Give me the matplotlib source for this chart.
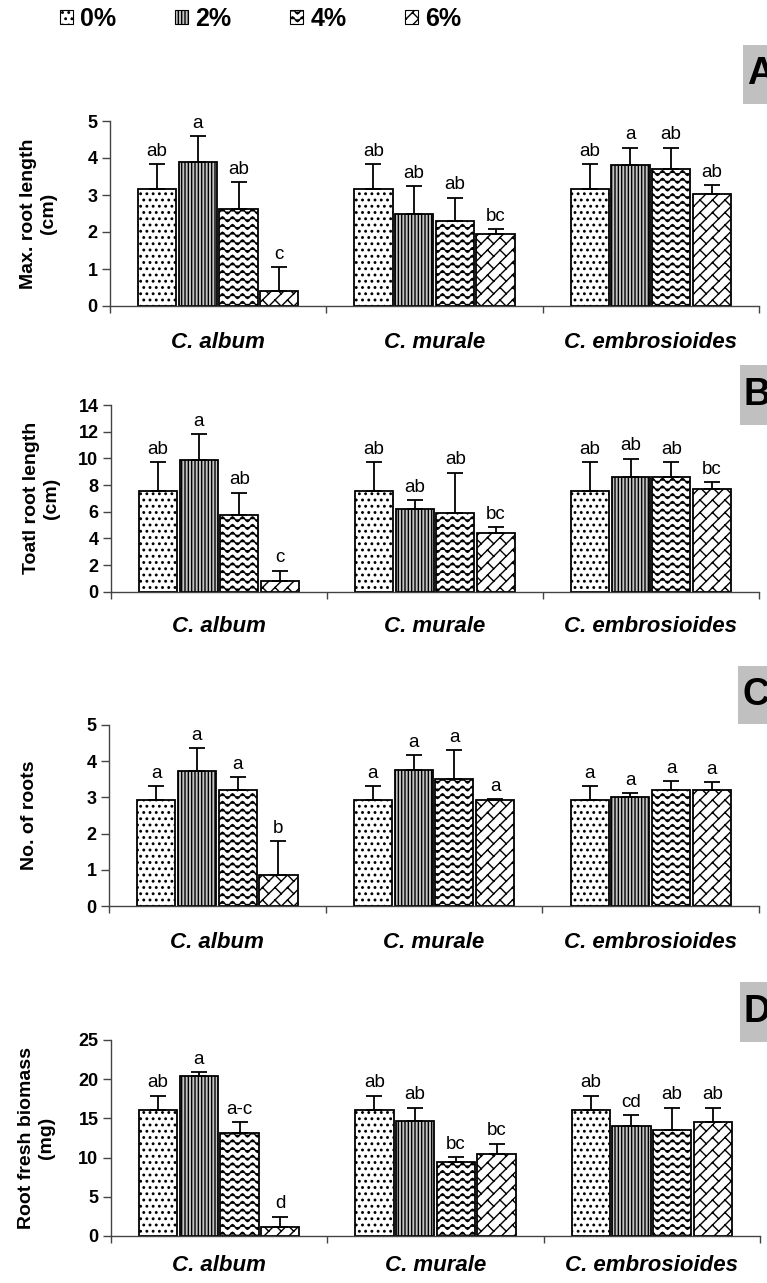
import warnings
warnings.filterwarnings('ignore')
import numpy as np
import matplotlib
matplotlib.use('Agg')
import matplotlib.pyplot as plt
import matplotlib.hatch as mhatch
from matplotlib.path import Path
from matplotlib.patches import Rectangle

# ---------------- data ----------------
species = ['C. album', 'C. murale', 'C. embrosioides']
concentrations = ['0%', '2%', '4%', '6%']

maxlen_mean = [[3.16, 3.88, 2.62, 0.40], [3.16, 2.49, 2.30, 1.95], [3.16, 3.80, 3.70, 3.02]]
maxlen_err = [[0.67, 0.72, 0.73, 0.66], [0.67, 0.76, 0.63, 0.13], [0.67, 0.48, 0.58, 0.24]]
maxlen_sig = [['ab', 'a', 'ab', 'c'], ['ab', 'ab', 'ab', 'bc'], ['ab', 'a', 'ab', 'ab']]

totlen_mean = [[7.55, 9.87, 5.75, 0.78], [7.55, 6.20, 5.93, 4.43], [7.55, 8.60, 8.60, 7.70]]
totlen_err = [[2.15, 1.98, 1.68, 0.80], [2.15, 0.68, 3.00, 0.42], [2.15, 1.38, 1.10, 0.53]]
totlen_sig = [['ab', 'a', 'ab', 'c'], ['ab', 'ab', 'ab', 'bc'], ['ab', 'ab', 'ab', 'bc']]

nroots_mean = [[2.92, 3.72, 3.20, 0.87], [2.92, 3.74, 3.50, 2.92], [2.92, 3.01, 3.20, 3.20]]
nroots_err = [[0.40, 0.64, 0.36, 0.92], [0.40, 0.42, 0.79, 0.03], [0.40, 0.10, 0.25, 0.21]]
nroots_sig = [['a', 'a', 'a', 'b'], ['a', 'a', 'a', 'a'], ['a', 'a', 'a', 'a']]

biomass_mean = [[16.07, 20.45, 13.10, 1.20], [16.07, 14.70, 9.48, 10.40], [16.07, 14.07, 13.56, 14.54]]
biomass_err = [[1.83, 0.45, 1.40, 1.27], [1.83, 1.67, 0.60, 1.38], [1.83, 1.36, 2.81, 1.83]]
biomass_sig = [['ab', 'a', 'a-c', 'd'], ['ab', 'ab', 'bc', 'bc'], ['ab', 'cd', 'ab', 'ab']]

panel_letters = ['A', 'B', 'C', 'D']
ylabels = ['Max. root length\n(cm)', 'Toatl root length\n(cm)', 'No. of roots', 'Root fresh biomass\n(mg)']
ymax = [5, 14, 5, 25]
ystep = [1, 2, 1, 5]


# ---------------- custom hatches ----------------
class DotHatch(mhatch.Shapes):
    size = 0.12
    filled = True

    def __init__(self, hatch, density):
        self.num_rows = 16 if hatch.count('d') else 0
        path = Path.unit_circle()
        self.shape_vertices = path.vertices
        self.shape_codes = path.codes
        super().__init__(hatch, density)


class WaveHatch(mhatch.HatchPatternBase):
    def __init__(self, hatch, density):
        n = hatch.count('w')
        self.rows = 13
        self.per = 10
        self.pts = self.per * 8 + 1
        self.num_vertices = self.rows * self.pts if n else 0

    def set_vertices_and_codes(self, vertices, codes):
        x = np.linspace(0, 1, self.pts)
        for r in range(self.rows):
            y = (r + 0.5) / self.rows + 0.024 * np.sin(2 * np.pi * self.per * x)
            sl = slice(r * self.pts, (r + 1) * self.pts)
            vertices[sl, 0] = x
            vertices[sl, 1] = y
            codes[sl] = Path.LINETO
            codes[r * self.pts] = Path.MOVETO


class BrickHatch(mhatch.HatchPatternBase):
    def __init__(self, hatch, density):
        n = hatch.count('k')
        segs = []
        if n:
            M, P = 8, 4
            d = 1.0 / M
            L = 1.0 / P
            for k in range(-M - 1, M + 2):
                c = k * d
                segs.append(((-1.0, -1.0 + c), (2.0, 2.0 + c)))
                for j in range(-4, 14):
                    u = j * L + (k % 2) * L / 2
                    x0 = (u - c) / 2
                    y0 = (u + c) / 2
                    if -0.3 < x0 < 1.3 and -0.3 < y0 < 1.3:
                        segs.append(((x0, y0), (x0 + d / 2, y0 - d / 2)))
        self.segs = segs
        self.num_vertices = 2 * len(segs)

    def set_vertices_and_codes(self, vertices, codes):
        for i, (a, b) in enumerate(self.segs):
            vertices[2 * i] = a
            vertices[2 * i + 1] = b
            codes[2 * i] = Path.MOVETO
            codes[2 * i + 1] = Path.LINETO


mhatch._hatch_types.extend([DotHatch, WaveHatch, BrickHatch])

styles = [
    dict(facecolor='white', hatch='d'),
    dict(facecolor='#c4c4c4', hatch='|||||'),
    dict(facecolor='white', hatch='w'),
    dict(facecolor='white', hatch='k'),
]

plt.rcParams['font.family'] = ['Liberation Sans', 'DejaVu Sans']
plt.rcParams['hatch.linewidth'] = 1.0

fig = plt.figure(figsize=(7.67, 12.83), dpi=100)
W, H = 767.0, 1283.0

# axes boxes in pixels: (left, top, right, bottom)
boxes = [(110, 121, 759, 306), (111, 405, 759, 591.7), (109, 724.7, 759, 906.3), (111, 1040, 760, 1236)]
label_right = [57, 60, 38, 55]
xlabel_pad = [18.5, 17.5, 18.5, 14]
label_boxes = [(743, 45, 104), (740, 365, 425), (738, 666, 724), (740, 982, 1042)]

means = [maxlen_mean, totlen_mean, nroots_mean, biomass_mean]
errs = [maxlen_err, totlen_err, nroots_err, biomass_err]
sigs = [maxlen_sig, totlen_sig, nroots_sig, biomass_sig]

step = 0.188
bw = 0.176
x = np.arange(len(species))
axcolor = '#444444'

for p in range(4):
    l, t, r, b = boxes[p]
    ax = fig.add_axes([l / W, 1 - b / H, (r - l) / W, (b - t) / H])
    m = np.array(means[p])
    e = np.array(errs[p])
    for c in range(4):
        xs = x + (c - 1.5) * step
        ax.bar(xs, m[:, c], width=bw, edgecolor='black', linewidth=1.3,
               zorder=2, **styles[c])
        ax.errorbar(xs, m[:, c], yerr=[np.zeros(3), e[:, c]], fmt='none',
                    ecolor='black', elinewidth=1.3, capsize=6, capthick=1.3, zorder=3)
        for i in range(3):
            ax.annotate(sigs[p][i][c], (xs[i], m[i, c] + e[i, c]), xytext=(0, 3),
                        textcoords='offset points', ha='center', va='bottom',
                        fontsize=13.5, zorder=4)
    ax.set_xlim(-0.5, 2.5)
    ax.set_ylim(0, ymax[p])
    ax.set_yticks(np.arange(0, ymax[p] + 0.01, ystep[p]))
    ax.set_xticks(x)
    ax.set_xticklabels(species, fontsize=16, fontweight='bold', fontstyle='italic')
    ax.set_xticks([-0.5, 0.5, 1.5, 2.5], minor=True)
    ax.tick_params(axis='x', which='major', length=0, pad=xlabel_pad[p])
    ax.tick_params(axis='x', which='minor', length=5, direction='out', color=axcolor, width=1)
    ax.tick_params(axis='y', length=6, direction='out', color=axcolor, width=1, pad=3,
                   labelsize=13)
    for lab in ax.get_yticklabels():
        lab.set_fontweight('bold')
    for s in ['top', 'right']:
        ax.spines[s].set_visible(False)
    for s in ['left', 'bottom']:
        ax.spines[s].set_color(axcolor)
        ax.spines[s].set_linewidth(1)
    ax.set_ylabel(ylabels[p], fontsize=14, fontweight='bold', linespacing=1.25)
    ax.yaxis.set_label_coords((label_right[p] - l) / (r - l), 0.5)

    bx, by0, by1 = label_boxes[p]
    fig.patches.append(Rectangle((bx / W, 1 - by1 / H), (W - bx) / W, (by1 - by0) / H,
                                 transform=fig.transFigure, facecolor='#c0c0c0',
                                 edgecolor='none'))
    fig.text((bx + 4) / W, 1 - (by0 + by1) / 2 / H, panel_letters[p], fontsize=27,
             fontweight='bold', ha='left', va='center')

# legend
handles = [Rectangle((0, 0), 1, 1, edgecolor='black', linewidth=0.8, **styles[c]) for c in range(4)]
leg = fig.legend(handles, concentrations, loc='center left', bbox_to_anchor=(60 / W, 1 - 19 / H),
                 ncol=4, frameon=False, handlelength=0.5, handleheight=0.5, handletextpad=0.3,
                 columnspacing=2.36, borderpad=0, borderaxespad=0,
                 prop=dict(family=['Liberation Sans Narrow', 'Liberation Sans'], weight='bold', size=18))

fig.savefig('out.png', dpi=100)
